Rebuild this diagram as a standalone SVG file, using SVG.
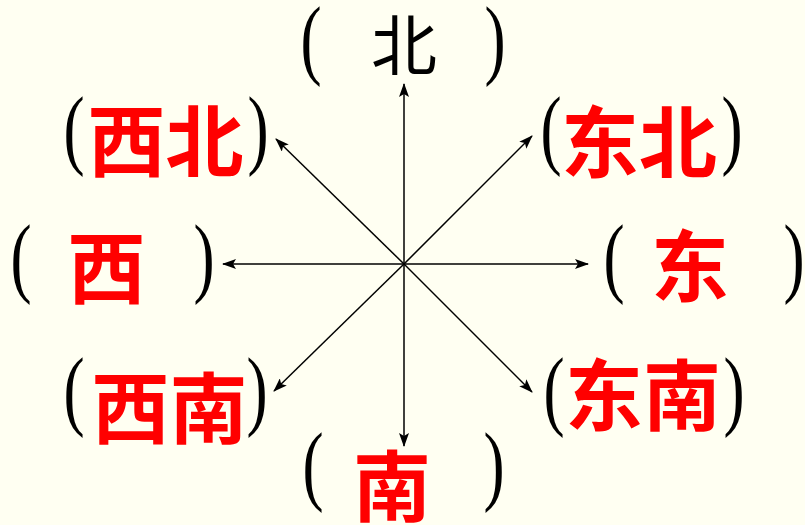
<svg xmlns="http://www.w3.org/2000/svg" width="805" height="525" viewBox="0 0 805 525">
<defs>
<marker id="ah" markerWidth="14" markerHeight="10" refX="13" refY="5" orient="auto" markerUnits="userSpaceOnUse">
<path d="M0,0 L14,5 L0,10 L3,5 z" fill="#000"/>
</marker>
<style>
.p{font-family:"Liberation Serif",serif;font-size:88px;fill:#000;text-anchor:middle}
.r{font-family:"Noto Sans CJK SC",sans-serif;font-weight:bold;font-size:78px;fill:#FF0000;text-anchor:middle}
.k{font-family:"Noto Sans CJK SC",sans-serif;font-size:66px;fill:#000;text-anchor:middle}
.c line{stroke:#000;stroke-width:1.5;marker-end:url(#ah)}
</style>
</defs>
<rect width="805" height="525" fill="#FFFFF2"/>
<g class="c" id="connectors">
<line x1="404" y1="264" x2="404" y2="84"/>
<line x1="404" y1="264" x2="404" y2="446"/>
<line x1="404" y1="264" x2="223" y2="264"/>
<line x1="404" y1="264" x2="588" y2="264"/>
<line x1="404" y1="264" x2="276" y2="139"/>
<line x1="404" y1="264" x2="532" y2="136"/>
<line x1="404" y1="264" x2="274" y2="391"/>
<line x1="404" y1="264" x2="532" y2="392"/>
</g>
<g id="n">
<text class="p" transform="translate(311,68) scale(0.72,1)">(</text><text class="k" x="404" y="70">北</text><text class="p" transform="translate(495,68) scale(0.72,1)">)</text>
</g>
<g id="nw">
<text class="p" transform="translate(74,158) scale(0.72,1)">(</text><text class="r" x="165.5" y="171">西北</text><text class="p" transform="translate(258,158) scale(0.72,1)">)</text>
</g>
<g id="ne">
<text class="p" transform="translate(551,158) scale(0.72,1)">(</text><text class="r" x="639" y="172">东北</text><text class="p" transform="translate(732,158) scale(0.72,1)">)</text>
</g>
<g id="w">
<text class="p" transform="translate(21,286) scale(0.72,1)">(</text><text class="r" x="106.5" y="298">西</text><text class="p" transform="translate(204,286) scale(0.72,1)">)</text>
</g>
<g id="e">
<text class="p" transform="translate(614,286) scale(0.72,1)">(</text><text class="r" x="690" y="296">东</text><text class="p" transform="translate(794,286) scale(0.72,1)">)</text>
</g>
<g id="sw">
<text class="p" transform="translate(74,419) scale(0.72,1)">(</text><text class="r" x="169.5" y="438">西南</text><text class="p" transform="translate(257,419) scale(0.72,1)">)</text>
</g>
<g id="se">
<text class="p" transform="translate(554,419) scale(0.72,1)">(</text><text class="r" x="643" y="425">东南</text><text class="p" transform="translate(734,419) scale(0.72,1)">)</text>
</g>
<g id="s">
<text class="p" transform="translate(313,494) scale(0.72,1)">(</text><text class="r" x="392" y="516">南</text><text class="p" transform="translate(494,494) scale(0.72,1)">)</text>
</g>
</svg>
